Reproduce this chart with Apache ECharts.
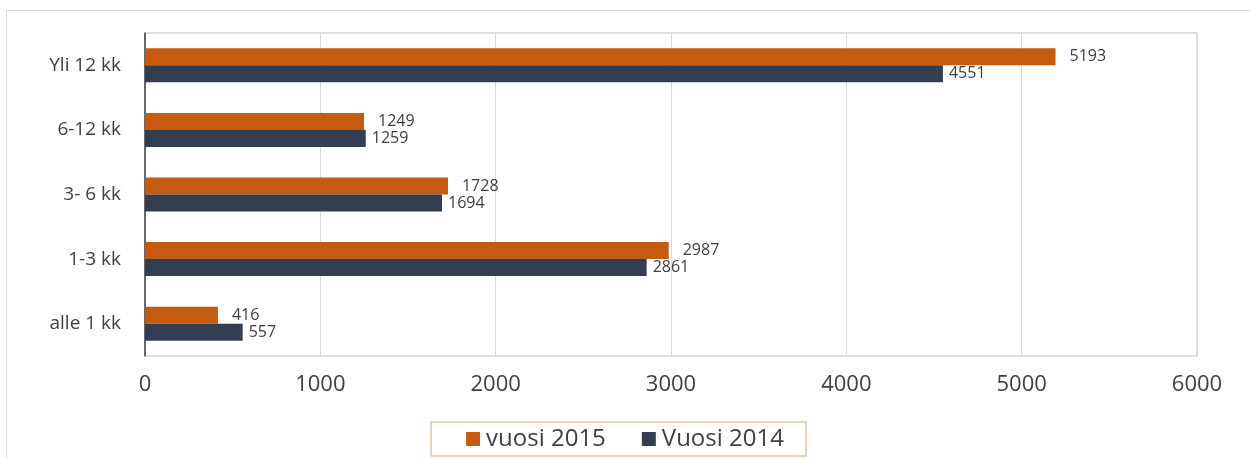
<!DOCTYPE html>
<html><head><meta charset="utf-8">
<script src="https://cdn.jsdelivr.net/npm/echarts@6/dist/echarts.min.js"></script>
<style>html,body{margin:0;padding:0;background:#fff}#c{width:1250px;height:459px}</style>
</head><body><div id="c"></div>
<script>
var categories = ['alle 1 kk', '1-3 kk', '3- 6 kk', '6-12 kk', 'Yli 12 kk'];
var values2015 = [416, 2987, 1728, 1249, 5193];
var values2014 = [557, 2861, 1694, 1259, 4551];
var xTicks = [0, 1000, 2000, 3000, 4000, 5000, 6000];
var seriesNames = ['vuosi 2015', 'Vuosi 2014'];

var chart = echarts.init(document.getElementById('c'));
var font = '"Open Sans", "Noto Sans", sans-serif';
chart.setOption({
  animation: false,
  graphic: [{type: 'rect', shape: {x: 6.5, y: 10.5, width: 1300, height: 500}, style: {fill: 'none', stroke: '#d9d9d9', lineWidth: 1}, z: -1}],
  grid: {left: 145, right: 53, top: 33, bottom: 103, show: true, borderColor: '#bfbfbf', borderWidth: 1},
  legend: {
    data: seriesNames, bottom: 3, left: 'center', itemWidth: 14, itemHeight: 14, itemGap: 36,
    padding: [5, 22, 5, 35], borderColor: '#e6c4a4', borderWidth: 1.5,
    icon: 'rect', textStyle: {fontFamily: font, fontSize: 24, color: '#404040', padding: [0, 0, 0, 1]}
  },
  xAxis: {
    type: 'value', min: xTicks[0], max: xTicks[xTicks.length - 1], interval: 1000,
    axisLine: {show: false}, axisTick: {show: false},
    splitLine: {lineStyle: {color: '#d9d9d9'}},
    axisLabel: {fontFamily: font, fontSize: 22, color: '#404040', margin: 18,
      formatter: function (v) { return String(v); }}
  },
  yAxis: {
    type: 'category', data: categories,
    axisLine: {show: true, lineStyle: {color: '#404040', width: 1.5}}, axisTick: {show: false},
    axisLabel: {fontFamily: font, fontSize: 19, color: '#404040', margin: 24}
  },
  series: [
    {name: seriesNames[0], type: 'bar', data: values2015, barWidth: 17, barGap: '0%', itemStyle: {color: '#c55a11'},
     label: {show: true, position: 'right', distance: 14, fontFamily: font, fontSize: 16, color: '#404040'}},
    {name: seriesNames[1], type: 'bar', data: values2014, barWidth: 17, barGap: '0%', itemStyle: {color: '#333f50'},
     label: {show: true, position: 'right', distance: 6, fontFamily: font, fontSize: 16, color: '#404040'}}
  ]
});
</script></body></html>
